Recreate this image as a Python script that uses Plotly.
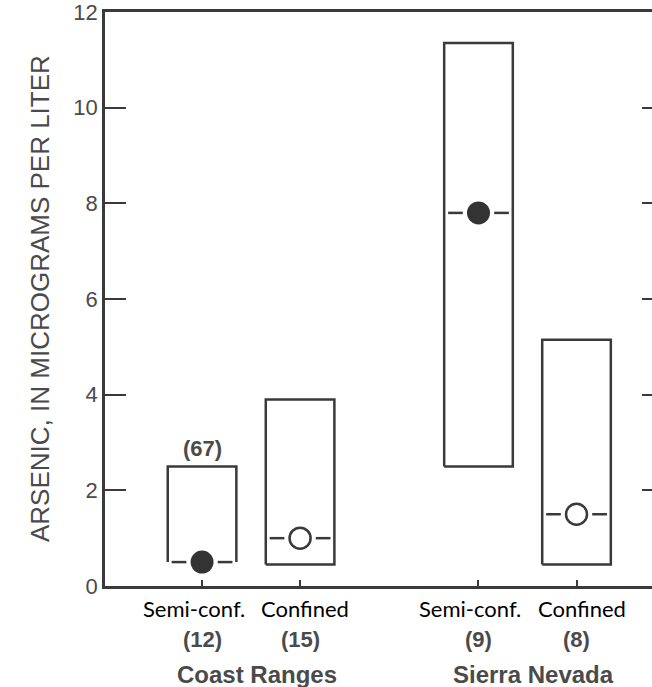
import plotly.graph_objects as go

# ---- data ----
groups = ["Coast Ranges", "Sierra Nevada"]
aquifers = ["Semi-conf.", "Confined"]
counts = ["(12)", "(15)", "(9)", "(8)"]
upper = [2.5, 3.9, 11.35, 5.15]      # top of box
lower = [0.5, 0.45, 2.5, 0.45]       # bottom of box
median = [0.5, 1.0, 7.8, 1.5]
filled = [True, False, True, False]
extra_label = "(67)"
y_title = "ARSENIC, IN MICROGRAMS PER LITER"
y_ticks = [0, 2, 4, 6, 8, 10, 12]

# ---- styling / layout constants ----
LINE = "#3a3a3a"
GRAY_TXT = "#4a4a4a"
group_step = 2.82
hw = 0.35          # box half width (x units)
dash_in = 0.16     # median dash inner offset
dash_out = 0.31    # median dash outer offset

xs = []
for gi, g in enumerate(groups):
    for ai, a in enumerate(aquifers):
        xs.append(1 + ai + gi * group_step)

fig = go.Figure()

for i, x in enumerate(xs):
    # box outline
    if lower[i] == median[i]:
        bx = [x - hw, x - hw, x + hw, x + hw]
        by = [lower[i], upper[i], upper[i], lower[i]]
    else:
        bx = [x - hw, x - hw, x + hw, x + hw, x - hw]
        by = [lower[i], upper[i], upper[i], lower[i], lower[i]]
    fig.add_trace(go.Scatter(x=bx, y=by, mode="lines",
                             line=dict(color=LINE, width=2.5),
                             hoverinfo="skip", showlegend=False))
    # median dashes
    fig.add_trace(go.Scatter(
        x=[x - dash_out, x - dash_in, None, x + dash_in, x + dash_out],
        y=[median[i], median[i], None, median[i], median[i]],
        mode="lines", line=dict(color=LINE, width=2.5),
        hoverinfo="skip", showlegend=False))
    # median marker
    if filled[i]:
        mk = dict(size=23, color="#333333", line=dict(width=0))
    else:
        mk = dict(size=21, color="white", line=dict(width=2.5, color=LINE))
    fig.add_trace(go.Scatter(x=[x], y=[median[i]], mode="markers",
                             marker=mk, showlegend=False))

# invisible trace for right axis
fig.add_trace(go.Scatter(x=[xs[0]], y=[0], yaxis="y2", mode="markers",
                         marker=dict(opacity=0), showlegend=False,
                         hoverinfo="skip"))

annotations = []
# (67) label above first box
annotations.append(dict(x=xs[0], y=upper[0], xref="x", yref="y",
                        text="<b>" + extra_label + "</b>", showarrow=False,
                        yanchor="bottom", yshift=3,
                        font=dict(family="Liberation Sans, Arial", size=22,
                                  color=GRAY_TXT)))
aq_shift = [-8, 5]
for i, x in enumerate(xs):
    annotations.append(dict(x=x, y=0, xref="x", yref="paper",
                            text=aquifers[i % 2], showarrow=False,
                            yanchor="middle", yshift=-22,
                            xshift=aq_shift[i % 2],
                            font=dict(family="Lato, Noto Sans", size=22,
                                      color="black")))
    annotations.append(dict(x=x, y=0, xref="x", yref="paper",
                            text="<b>" + counts[i] + "</b>", showarrow=False,
                            yanchor="middle", yshift=-53,
                            font=dict(family="Liberation Sans, Arial", size=22,
                                      color=GRAY_TXT)))
for gi, g in enumerate(groups):
    xm = (xs[2 * gi] + xs[2 * gi + 1]) / 2
    annotations.append(dict(x=xm, y=0, xref="x", yref="paper",
                            text="<b>" + g + "</b>", showarrow=False,
                            yanchor="middle", yshift=-88, xshift=6,
                            font=dict(family="Liberation Sans, Arial", size=24,
                                      color=GRAY_TXT)))
annotations.append(dict(x=0, y=0.5, xref="paper", yref="paper",
                        text=y_title, showarrow=False, textangle=-90,
                        xanchor="center", yanchor="middle", xshift=-65,
                        font=dict(family="Liberation Sans, Arial", size=26,
                                  color=GRAY_TXT)))

fig.update_layout(
    width=652, height=687,
    margin=dict(l=105, r=0, t=12, b=101),
    paper_bgcolor="white", plot_bgcolor="white",
    annotations=annotations,
    xaxis=dict(range=[0.01, 5.59], tickvals=xs, ticktext=["" for _ in xs],
               ticks="inside", ticklen=6, tickwidth=2, tickcolor=LINE,
               showline=True, linecolor=LINE, linewidth=2.5, mirror=True,
               showgrid=False, zeroline=False),
    yaxis=dict(range=[0, 12], tickvals=y_ticks,
               ticks="inside", ticklen=21, tickwidth=2, tickcolor=LINE,
               showline=True, linecolor=LINE, linewidth=2.5,
               showgrid=False, zeroline=False, ticklabeloverflow="allow",
               tickfont=dict(family="Liberation Sans, Arial", size=22,
                             color=GRAY_TXT)),
    yaxis2=dict(range=[0, 12], overlaying="y", side="right",
                tickvals=y_ticks[1:-1], ticks="inside", ticklen=10,
                tickwidth=2, tickcolor=LINE, showline=False,
                showticklabels=False, showgrid=False, zeroline=False),
)

fig.write_html("out.html")
